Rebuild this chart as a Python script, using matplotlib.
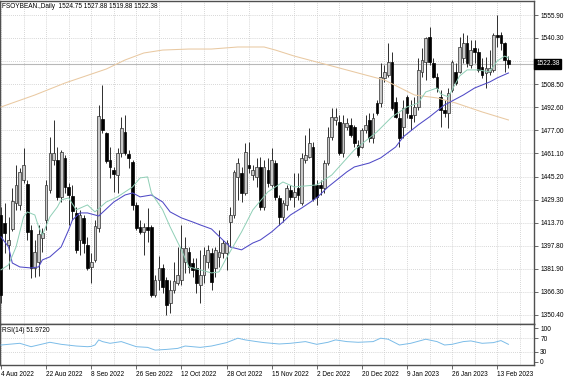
import matplotlib
matplotlib.use("Agg")
import matplotlib.pyplot as plt
import matplotlib.transforms as mtransforms
import numpy as np

# ---------------- data ----------------
opens = [1418.9, 1413.4, 1398.4, 1409.3, 1427.1, 1425.8, 1442.9, 1440.2, 1408.7, 1382.6,
         1386.7, 1403.2, 1415.5, 1436.1, 1456.6, 1456.6, 1431.3, 1458.0, 1438.1, 1431.9,
         1420.3, 1401.8, 1416.9, 1398.4, 1383.3, 1388.1, 1410.0, 1484.7, 1475.1, 1456.6,
         1449.7, 1446.3, 1461.4, 1475.8, 1460.7, 1455.2, 1425.8, 1410.7, 1407.3, 1410.7,
         1410.7, 1364.1, 1374.4, 1382.6, 1374.4, 1358.6, 1367.6, 1372.3, 1374.4, 1386.7,
         1393.6, 1386.0, 1382.6, 1371.0, 1377.8, 1386.7, 1392.9, 1382.6, 1390.2, 1392.9,
         1392.9, 1414.1, 1418.9, 1445.0, 1447.7, 1434.0, 1453.2, 1446.3, 1445.0, 1451.8,
         1424.4, 1449.7, 1439.5, 1454.5, 1430.6, 1417.6, 1425.8, 1436.1, 1431.3, 1437.4,
         1427.1, 1456.6, 1458.7, 1465.5, 1439.5, 1439.5, 1437.4, 1454.5, 1472.4, 1484.0,
         1482.6, 1461.4, 1479.2, 1480.6, 1479.2, 1466.9, 1465.5, 1477.2, 1484.0, 1471.7,
         1495.6, 1495.6, 1512.8, 1514.8, 1523.7, 1496.3, 1485.4, 1479.2, 1499.8, 1487.4,
         1487.4, 1492.9, 1516.9, 1523.7, 1540.9, 1523.0, 1513.5, 1499.8, 1490.9, 1488.8,
         1504.6, 1516.9, 1516.9, 1526.5, 1536.7, 1521.7, 1533.3, 1530.6, 1520.3, 1516.2,
         1516.9, 1518.3, 1542.2, 1542.2, 1536.7, 1524.75]
highs = [1424.4, 1427.1, 1417.6, 1437.4, 1453.2, 1451.1, 1464.8, 1442.9, 1412.1, 1401.8,
         1412.1, 1410.0, 1442.9, 1472.4, 1484.0, 1465.5, 1463.5, 1460.0, 1440.8, 1439.5,
         1424.4, 1422.4, 1418.9, 1403.9, 1392.9, 1415.5, 1494.3, 1508.0, 1475.8, 1465.5,
         1451.8, 1464.8, 1486.1, 1487.4, 1463.5, 1456.6, 1427.8, 1415.5, 1413.4, 1423.7,
         1412.1, 1377.8, 1390.8, 1385.4, 1376.5, 1374.4, 1386.7, 1397.0, 1412.1, 1403.9,
         1397.0, 1389.5, 1389.5, 1395.0, 1397.0, 1398.4, 1396.3, 1397.0, 1408.7, 1401.8,
         1401.8, 1424.4, 1449.7, 1458.0, 1451.8, 1468.2, 1468.9, 1453.2, 1458.0, 1458.7,
         1456.6, 1458.0, 1464.8, 1456.6, 1432.6, 1429.2, 1439.5, 1439.5, 1447.7, 1447.7,
         1461.4, 1473.7, 1478.5, 1468.9, 1442.9, 1442.9, 1456.6, 1479.2, 1492.2, 1492.2,
         1487.4, 1487.4, 1485.4, 1485.4, 1480.6, 1470.3, 1478.5, 1487.4, 1488.8, 1488.8,
         1497.7, 1523.0, 1521.7, 1536.7, 1530.6, 1499.8, 1488.8, 1497.7, 1501.1, 1497.7,
         1499.8, 1526.5, 1533.3, 1540.9, 1547.7, 1526.5, 1516.2, 1504.6, 1497.7, 1505.9,
         1525.1, 1523.0, 1540.9, 1543.6, 1542.2, 1538.8, 1538.8, 1533.3, 1526.5, 1527.2,
         1531.9, 1543.6, 1555.9, 1544.3, 1537.4, 1527.88]
lows = [1358.6, 1392.9, 1381.9, 1408.0, 1422.4, 1422.4, 1440.8, 1401.8, 1375.8, 1376.5,
        1377.1, 1393.6, 1408.7, 1434.0, 1453.2, 1429.2, 1427.8, 1434.0, 1412.1, 1415.5,
        1392.9, 1391.5, 1392.9, 1381.3, 1372.3, 1386.7, 1407.3, 1475.1, 1454.5, 1444.3,
        1434.7, 1434.0, 1458.7, 1460.0, 1451.1, 1422.4, 1408.7, 1405.9, 1391.5, 1400.4,
        1362.8, 1362.8, 1367.6, 1365.5, 1350.4, 1351.8, 1365.5, 1371.0, 1371.0, 1379.2,
        1379.2, 1376.5, 1365.5, 1358.6, 1372.3, 1382.6, 1367.6, 1376.5, 1383.3, 1389.5,
        1381.3, 1397.0, 1416.9, 1429.2, 1427.8, 1432.6, 1447.7, 1442.9, 1438.1, 1422.4,
        1422.4, 1438.1, 1438.1, 1429.2, 1412.1, 1414.1, 1422.4, 1429.2, 1424.4, 1429.2,
        1425.8, 1454.5, 1458.0, 1428.5, 1425.8, 1432.6, 1434.0, 1453.2, 1470.3, 1480.6,
        1460.0, 1458.7, 1477.2, 1472.4, 1465.5, 1458.7, 1464.8, 1475.1, 1468.9, 1468.2,
        1487.4, 1492.9, 1510.0, 1513.5, 1490.9, 1485.4, 1465.5, 1471.7, 1485.4, 1477.2,
        1482.6, 1490.9, 1513.5, 1511.4, 1521.7, 1512.8, 1503.2, 1479.2, 1486.1, 1478.5,
        1503.2, 1508.0, 1516.2, 1523.0, 1520.3, 1519.6, 1523.0, 1516.9, 1512.8, 1505.9,
        1514.8, 1516.9, 1534.0, 1531.9, 1516.9, 1519.88]
closes = [1364.1, 1406.6, 1401.8, 1428.5, 1439.5, 1448.4, 1453.2, 1407.3, 1382.6, 1393.6,
          1405.9, 1406.6, 1439.5, 1461.4, 1461.4, 1431.3, 1462.1, 1438.1, 1432.6, 1421.7,
          1395.0, 1418.9, 1399.7, 1382.6, 1386.7, 1411.4, 1486.7, 1477.2, 1455.9, 1451.8,
          1447.0, 1461.4, 1478.5, 1461.4, 1458.0, 1425.8, 1410.0, 1407.3, 1410.7, 1408.7,
          1364.1, 1374.4, 1382.6, 1369.6, 1357.3, 1367.6, 1373.7, 1377.8, 1396.3, 1396.3,
          1383.3, 1381.3, 1372.3, 1377.8, 1391.5, 1395.0, 1373.0, 1395.0, 1393.6, 1399.7,
          1399.7, 1418.9, 1448.4, 1454.5, 1434.0, 1462.1, 1451.1, 1449.7, 1451.8, 1424.4,
          1451.8, 1440.8, 1456.6, 1431.3, 1417.6, 1427.1, 1437.4, 1431.3, 1434.7, 1432.6,
          1458.0, 1460.0, 1468.2, 1429.9, 1431.3, 1437.4, 1454.5, 1472.4, 1486.1, 1486.1,
          1461.4, 1481.9, 1481.9, 1473.7, 1468.2, 1460.0, 1477.2, 1480.6, 1471.7, 1485.4,
          1488.8, 1513.5, 1516.9, 1523.7, 1492.2, 1486.1, 1471.7, 1492.2, 1488.8, 1485.4,
          1492.9, 1518.3, 1525.1, 1540.2, 1523.7, 1513.5, 1505.9, 1490.9, 1488.8, 1502.5,
          1523.7, 1509.3, 1534.0, 1536.7, 1523.0, 1531.9, 1530.6, 1518.3, 1514.8, 1519.6,
          1519.6, 1542.2, 1540.9, 1536.7, 1525.1, 1522.38]

ma_fast_bar = [0, 2, 4, 6, 7, 9, 10, 11, 13, 15, 16, 18, 20, 23, 25, 28, 31, 35, 37, 39,
               40, 43, 45, 48, 50, 53, 56, 58, 60, 64, 67, 71, 75, 78, 81, 84, 88, 94, 100,
               104, 108, 111, 113, 116, 117, 119, 122, 124, 127, 130, 132, 134, 135]
ma_fast = [1381.3, 1384.7, 1397.0, 1417.6, 1421.0, 1418.9, 1410.7, 1405.2, 1417.6, 1424.4,
           1429.2, 1430.6, 1422.4, 1425.8, 1421.0, 1427.8, 1431.3, 1438.1, 1444.3, 1445.0,
           1434.0, 1422.4, 1410.7, 1395.0, 1383.3, 1381.3, 1379.2, 1379.9, 1389.5, 1407.3,
           1422.4, 1434.7, 1441.5, 1438.1, 1438.8, 1439.5, 1446.3, 1463.5, 1475.8, 1486.1,
           1492.9, 1495.6, 1503.2, 1505.9, 1501.8, 1499.8, 1514.1, 1518.3, 1518.3, 1516.9,
           1524.4, 1527.8, 1526.5]

ma_mid_bar = [0, 2, 3, 5, 8, 10, 11, 13, 16, 18, 19, 21, 23, 26, 28, 30, 33, 35, 37, 40,
              43, 45, 48, 51, 53, 56, 59, 61, 64, 67, 69, 72, 75, 77, 80, 84, 87, 92, 94,
              98, 101, 105, 107, 111, 114, 118, 119, 123, 126, 130, 132, 135]
ma_mid = [1403.9, 1397.0, 1386.0, 1383.3, 1382.6, 1383.3, 1388.1, 1390.2, 1397.0, 1408.7,
          1415.5, 1420.3, 1420.3, 1418.2, 1423.0, 1427.8, 1432.6, 1434.0, 1431.3, 1432.6,
          1427.8, 1421.0, 1416.9, 1414.1, 1412.1, 1409.3, 1401.8, 1397.0, 1395.0, 1399.7,
          1401.8, 1407.3, 1414.1, 1418.9, 1423.7, 1430.6, 1438.1, 1448.4, 1451.8, 1454.5,
          1458.0, 1465.5, 1472.4, 1480.6, 1486.1, 1494.3, 1495.6, 1501.1, 1505.9, 1510.0,
          1512.8, 1516.2]

ma_slow_bar = [0, 9, 17, 28, 33, 38, 43, 50, 56, 63, 70, 73, 78, 84, 88, 97, 102, 110,
               116, 121, 128, 135]
ma_slow = [1492.9, 1501.1, 1509.3, 1518.9, 1525.1, 1529.9, 1531.9, 1532.6, 1532.6, 1534.0,
           1534.0, 1531.9, 1527.8, 1523.7, 1521.0, 1514.8, 1511.4, 1501.1, 1499.1, 1495.6,
           1489.5, 1484.0]

rsi_bar = [0, 5, 8, 13, 16, 20, 23, 24, 25, 26, 27, 29, 32, 36, 39, 41, 44, 47, 49, 53,
           56, 60, 63, 65, 68, 70, 74, 77, 81, 84, 87, 89, 92, 95, 99, 101, 103, 106, 109,
           113, 116, 118, 120, 123, 125, 128, 131, 133, 135]
rsi_vals = [50, 55, 45, 58, 52, 47, 45, 46, 50, 65, 60, 55, 60, 45, 43, 35, 37, 40, 47, 43,
            47, 57, 70, 65, 60, 57, 53, 55, 60, 52, 58, 65, 60, 58, 60, 70, 67, 50, 55,
            67, 60, 50, 52, 60, 62, 55, 57, 63, 52]

date_labels = ["4 Aug 2022", "22 Aug 2022", "8 Sep 2022", "26 Sep 2022", "12 Oct 2022",
               "28 Oct 2022", "15 Nov 2022", "2 Dec 2022", "20 Dec 2022", "9 Jan 2023",
               "26 Jan 2023", "13 Feb 2023"]
bars_per_label = 12
bars_per_grid = 6

price_ticks = [1350.40, 1366.30, 1381.90, 1397.80, 1413.70, 1429.30, 1445.20, 1461.10,
               1477.00, 1492.60, 1508.50, 1524.40, 1540.30, 1555.90]
last_price = 1522.38
rsi_ticks = [0, 30, 70, 100]
rsi_levels = [30, 70]
title_text = "FSOYBEAN.,Daily  1524.75 1527.88 1519.88 1522.38"
rsi_text = "RSI(14) 51.9720"

# ---------------- style ----------------
FONT = "Liberation Sans"
FS = 4.7
GRID = dict(color="#c9c9c9", lw=0.6, linestyle=(0, (1, 1.5)), zorder=0)
SPINE = "#505050"

fig = plt.figure(figsize=(5.64, 3.76), dpi=100)
fig.patch.set_facecolor("white")
ax = fig.add_axes([0.0, 0.1383, 0.9468, 0.8590])
ax2 = fig.add_axes([0.0, 0.0293, 0.9468, 0.1090], sharex=ax)

n = len(closes)
x = np.arange(n)
o = np.array(opens); h = np.array(highs); l = np.array(lows); c = np.array(closes)
up = c >= o

xmax = n - 1 + 6.8
ax.set_xlim(-0.27, xmax)
ax.set_ylim(1344.2, 1565.5)

# grid
for b in range(0, int(xmax) + 1, bars_per_grid):
    ax.axvline(b, **GRID)
    ax2.axvline(b, **GRID)
for p in price_ticks:
    ax.axhline(p, **GRID)
for lv in rsi_levels:
    ax2.axhline(lv, **GRID)

# current price line
ax.axhline(last_price, color="#b8b8b8", lw=0.8, zorder=1)

# candles
ax.vlines(x, l, h, color="#2e2e2e", lw=0.7, zorder=2)
bottom = np.minimum(o, c)
height = np.maximum(np.abs(c - o), 0.6)
ax.bar(x[up], height[up], bottom=bottom[up], width=0.72, color="#c9c9c9",
       edgecolor="#2e2e2e", linewidth=0.5, zorder=3)
ax.bar(x[~up], height[~up], bottom=bottom[~up], width=0.72, color="black",
       edgecolor="black", linewidth=0.5, zorder=3)

# moving averages
ax.plot(ma_slow_bar, ma_slow, color="#e9c9a2", lw=0.75, zorder=4)
ax.plot(ma_mid_bar, ma_mid, color="#4f49c6", lw=0.75, zorder=5)
ax.plot(ma_fast_bar, ma_fast, color="#8fcfb6", lw=0.7, zorder=5)

# RSI
ax2.plot(rsi_bar, rsi_vals, color="#7bbce8", lw=0.7, zorder=3)
ax2.set_ylim(-8.8, 111.8)

# axes styling
for a in (ax, ax2):
    for s in a.spines.values():
        s.set_color(SPINE)
        s.set_linewidth(1.0)
    a.yaxis.tick_right()
    a.tick_params(axis="y", direction="out", length=3, width=0.6, colors=SPINE,
                  labelsize=FS, labelcolor="black", pad=1.5)
    a.set_facecolor("white")

ax.set_yticks(price_ticks)
ax.set_yticklabels(["" if abs(p - 1524.40) < 1e-6 else f"{p:.2f}" for p in price_ticks],
                   fontfamily=FONT)
ax2.set_yticks(rsi_ticks)
ax2.set_yticklabels([str(t) for t in rsi_ticks], fontfamily=FONT)

ax.tick_params(axis="x", bottom=False, labelbottom=False)
label_pos = [i * bars_per_label for i in range(len(date_labels))]
ax2.set_xticks(label_pos)
ax2.set_xticklabels(date_labels, fontfamily=FONT, ha="left")
ax2.tick_params(axis="x", direction="out", length=3, width=0.6, colors=SPINE,
                labelsize=FS, labelcolor="black", pad=1.0)

# current price tag
trans = mtransforms.blended_transform_factory(ax.transAxes, ax.transData)
ax.text(1.004, last_price, f"{last_price:.2f}", transform=trans, ha="left", va="center",
        fontsize=FS, color="white", fontfamily=FONT, clip_on=False, zorder=10,
        bbox=dict(boxstyle="square,pad=0.25", facecolor="black", edgecolor="black"))

# texts
ax.text(0.004, 0.994, title_text, transform=ax.transAxes, ha="left", va="top",
        fontsize=FS, fontfamily=FONT, color="black", zorder=10)
ax2.text(0.004, 0.93, rsi_text, transform=ax2.transAxes, ha="left", va="top",
         fontsize=FS, fontfamily=FONT, color="black", zorder=10)

fig.savefig("out.png", dpi=100, facecolor="white")
